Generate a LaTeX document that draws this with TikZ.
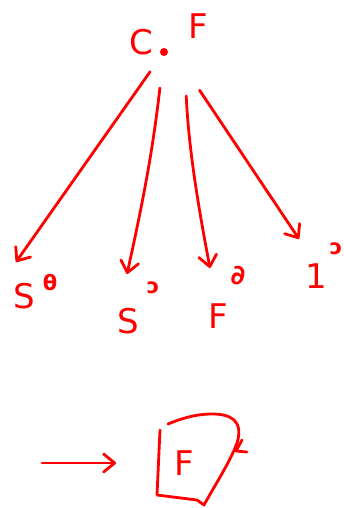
\documentclass[tikz,border=0pt]{standalone}
\usepackage{fontspec}
\setmainfont{DejaVu Sans}
\usetikzlibrary{arrows.meta}

\begin{document}
\begin{tikzpicture}[x=1pt,y=-1pt]

\tikzset{ink/.style = {red, line width=2.8pt, line cap=round, line join=round}}
\tikzset{edge/.style = {ink, -{Straight Barb[length=11pt,width=18pt,round]}}}
\tikzset{letter/.style = {red, font=\fontsize{34}{34}\selectfont, inner sep=0pt}}
\tikzset{sup/.style = {red, font=\bfseries\fontsize{21}{21}\selectfont, inner sep=0pt}}
\useasboundingbox (0,0) rectangle (344,508);

%top point
\node[letter] (C) at (141,42) {C};
\node[letter] (F) at (198,26) {F};
\node[circle, fill=red, inner sep=0pt, minimum size=8pt] (root) at (164,52) {};

%targets
\node[letter] (s0) at (24,296) {S};
\node[sup] (s0up) at (50,283) {θ};
\node[letter] (sn) at (128,321) {S};
\node[sup] (snup) at (153,288) {ɔ};
\node[letter] (fd) at (218,316) {F};
\node[sup, font=\bfseries\fontsize{27}{27}\selectfont] (fdup) at (238,276) {∂};
\node[letter] (one) at (316,276) {1};
\node[sup] (oneup) at (336,249) {ɔ};

%arrow ends
\coordinate (e1) at (16,262);
\coordinate (e2) at (127,274);
\coordinate (e3) at (210,268);
\coordinate (e4) at (299,239);

\draw[edge, shorten <=20pt] (root) -- (e1);
\draw[edge, shorten <=32pt] (root) to[bend left=3] (e2);
\draw[edge, shorten <=44pt] (root) ++(20,0) to[bend right=4] (e3);
\draw[edge, shorten <=46pt] (root) ++(10,0) -- (e4);

%boxed one at the bottom
\coordinate (in) at (42,463);
\node[letter] (fbox) at (184,463) {F};
\draw[edge, shorten >=58pt] (in) -- (fbox.west);
\draw[ink] (160,430) -- (157,495) -- (197,500) -- (204,505)
  .. controls (215,485) and (230,462) .. (237,443)
  .. controls (244,420) and (230,414) .. (212,414)
  .. controls (195,414) and (180,419) .. (168,424);
\draw[ink] (242,440) -- (236,451) -- (247,452);

\end{tikzpicture}
\end{document}
